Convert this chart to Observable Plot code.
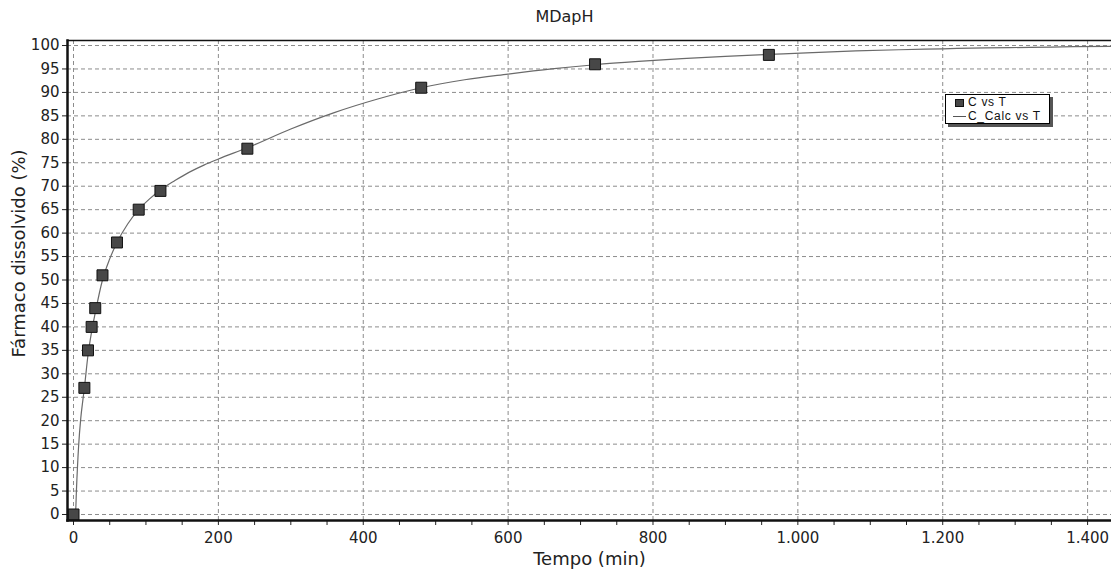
<!DOCTYPE html>
<html>
<head>
<meta charset="utf-8">
<script src="https://cdn.jsdelivr.net/npm/d3@7"></script>
<script src="https://cdn.jsdelivr.net/npm/@observablehq/plot@0.6"></script>
<style>
  body { margin: 0; background: #fff; }
  #wrap { position: relative; width: 1111px; height: 570px; font-family: "DejaVu Sans", Verdana, sans-serif; color: #222; }
  #title { height: 36px; line-height: 34px; text-align: center; font-size: 16px; padding-left: 18px; box-sizing: border-box; }
  #chart svg { display: block; }
  #legend { position: absolute; left: 945px; top: 94px; width: 103px; height: 28px; border: 1px solid #000; background: #fff;
            box-shadow: 3px 3px 0 #555; font: 12px "Liberation Sans", Arial, sans-serif; letter-spacing: 0.7px; color: #111; }
  #legend .row { position: absolute; left: 0; width: 103px; height: 12px; line-height: 12px; }
  #legend .sq { position: absolute; left: 9px; top: 3px; width: 7px; height: 6px; background: #474747; border: 1px solid #111; }
  #legend .ln { position: absolute; left: 7px; top: 6px; width: 13px; height: 0; border-top: 1px solid #555; }
  #legend .tx { position: absolute; left: 22px; top: 0; white-space: nowrap; }
</style>
</head>
<body>
<div id="wrap">
  <div id="title">MDapH</div>
  <div id="chart"></div>
  <div id="legend">
    <div class="row" style="top:1px"><span class="sq"></span><span class="tx">C vs T</span></div>
    <div class="row" style="top:15px"><span class="ln"></span><span class="tx">C_Calc vs T</span></div>
  </div>
</div>
<script>
// Measured dissolution (C vs T)
const tempoObs = [0, 15, 20, 25, 30, 40, 60, 90, 120, 240, 480, 720, 960];
const dissolvidoObs = [0, 27, 35, 40, 44, 51, 58, 65, 69, 78, 91, 96, 98];

// Fitted profile (C_Calc vs T)
const tempoCalc = [0, 3, 4, 7, 10, 13, 15, 20, 25, 30, 40, 50, 60, 75, 90, 105, 120, 140, 160, 180, 200, 240, 300, 360, 420, 480, 540, 600, 660, 720, 780, 840, 900, 960, 1020, 1080, 1140, 1200, 1260, 1320, 1380, 1440];
const dissolvidoCalc = [0, 1, 5, 14.5, 20.5, 24.5, 27, 34, 39, 43, 50, 54.5, 58, 62, 65, 67.3, 69.2, 71.2, 73, 74.5, 75.8, 78.2, 82.2, 85.7, 88.6, 91.0, 92.7, 93.9, 95.0, 95.9, 96.6, 97.2, 97.7, 98.1, 98.5, 98.85, 99.1, 99.3, 99.5, 99.6, 99.75, 99.85];

// Axis ticks
const yTicks = [0, 5, 10, 15, 20, 25, 30, 35, 40, 45, 50, 55, 60, 65, 70, 75, 80, 85, 90, 95, 100];
const xTicks = [0, 200, 400, 600, 800, 1000, 1200, 1400];
const xMinorTicks = [0, 50, 100, 150, 200, 250, 300, 350, 400, 450, 500, 550, 600, 650, 700, 750, 800, 850, 900, 950, 1000, 1050, 1100, 1150, 1200, 1250, 1300, 1350, 1400];

const obs = tempoObs.map((t, i) => ({t, c: dissolvidoObs[i]}));
const calc = tempoCalc.map((t, i) => ({t, c: dissolvidoCalc[i]}));

const fmtX = d => d3.format(",")(d).replace(/,/g, ".");
const gridStyle = {stroke: "#8c8c8c", strokeOpacity: 1, strokeWidth: 1, strokeDasharray: "4,3"};

const chart = Plot.plot({
  width: 1111,
  height: 534,
  marginTop: 4,
  marginBottom: 50,
  marginLeft: 67,
  marginRight: 0,
  style: {fontFamily: "'DejaVu Sans', Verdana, sans-serif", fontSize: "15px", color: "#222", background: "#fff"},
  x: {domain: [-8.3, 1433], label: null},
  y: {domain: [-1.28, 101.07], label: null},
  marks: [
    Plot.gridY(yTicks, gridStyle),
    Plot.gridX(xTicks, gridStyle),
    Plot.axisY(yTicks, {tickSize: 5, tickPadding: 3, fontSize: 15, stroke: "#222", label: null}),
    Plot.axisX(xMinorTicks, {tickSize: 5, text: null, stroke: "#222", label: null}),
    Plot.axisX(xTicks, {tickSize: 0, tickPadding: 12, tickFormat: fmtX, fontSize: 15, label: null}),
    Plot.text(["Tempo (min)"], {frameAnchor: "bottom", dy: 44, fontSize: 18, fill: "#222"}),
    Plot.text(["Fármaco dissolvido (%)"], {frameAnchor: "left", textAnchor: "middle", rotate: -90, dx: -48, dy: -27, fontSize: 18, fill: "#222", letterSpacing: "0.8px"}),
    Plot.line(calc, {x: "t", y: "c", stroke: "#6a6a6a", strokeWidth: 1.2, curve: "monotone-x", clip: true}),
    Plot.dot(obs, {x: "t", y: "c", symbol: "square", r: 6.2, fill: "#474747", stroke: "#111", strokeWidth: 1}),
    Plot.frame({anchor: "top", stroke: "#111", strokeWidth: 1.5}),
    Plot.frame({anchor: "left", stroke: "#111", strokeWidth: 2.5}),
    Plot.frame({anchor: "bottom", stroke: "#111", strokeWidth: 2.5})
  ]
});
document.getElementById("chart").appendChild(chart);
</script>
</body>
</html>
